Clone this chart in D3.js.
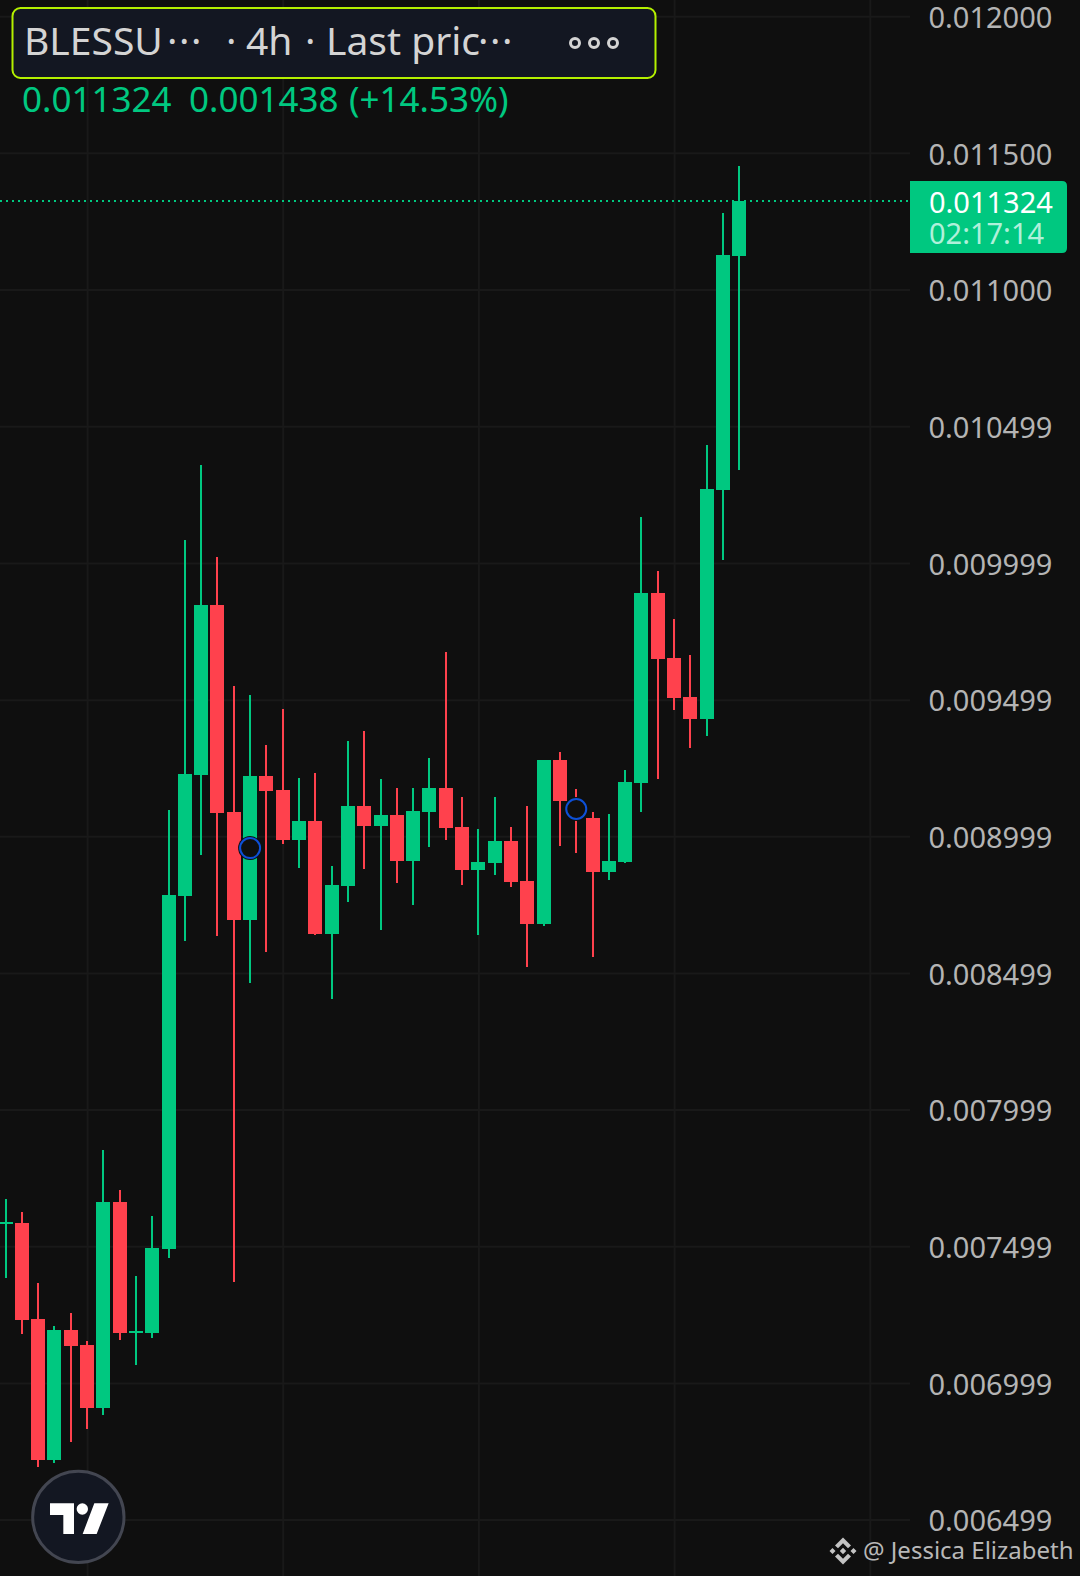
<!doctype html>
<html lang="en">
    <head>
        <meta charset="utf-8">
        <style>
        body, html{
            margin:0;
            padding:0;
            border:none;
            background:#0f0f0f;
            overflow:hidden;
        }
        svg{
            position:absolute;
            top:0;
            left:0;
        }
        text{
            font-family:"Noto Sans", sans-serif;
        }
        </style>
    </head>
    <body>
        <div id="chart"></div>
        <script src="https://d3js.org/d3.v7.min.js"></script>
        <script>

const opens = [
  0.007580, 0.007584, 0.007233, 0.006717, 0.007193, 0.007138, 0.006907, 0.007661, 0.007182, 0.007182,
  0.007489, 0.008781, 0.009223, 0.009845, 0.009088, 0.008693, 0.009220, 0.009168, 0.008985, 0.009055,
  0.008642, 0.008817, 0.009110, 0.009037, 0.009077, 0.008909, 0.009088, 0.009176, 0.009033, 0.008876,
  0.008901, 0.008982, 0.008835, 0.008678, 0.009278, 0.009124, 0.009066, 0.008868, 0.008905, 0.009194,
  0.009889, 0.009651, 0.009509, 0.009428, 0.010266, 0.011122
];
const highs = [
  0.007672, 0.007624, 0.007365, 0.007207, 0.007255, 0.007152, 0.007851, 0.007705, 0.007390, 0.007610,
  0.009095, 0.010083, 0.010358, 0.010021, 0.009549, 0.009516, 0.009333, 0.009465, 0.009212, 0.009231,
  0.008890, 0.009348, 0.009384, 0.009209, 0.009176, 0.009176, 0.009285, 0.009673, 0.009143, 0.009026,
  0.009143, 0.009033, 0.009110, 0.009278, 0.009307, 0.009172, 0.009088, 0.009081, 0.009242, 0.010167,
  0.009970, 0.009794, 0.009662, 0.010431, 0.011280, 0.011452
];
const lows = [
  0.007383, 0.007178, 0.006691, 0.006706, 0.006783, 0.006830, 0.006882, 0.007156, 0.007064, 0.007163,
  0.007456, 0.008616, 0.008931, 0.008634, 0.007368, 0.008462, 0.008576, 0.008971, 0.008883, 0.008638,
  0.008404, 0.008759, 0.008879, 0.008656, 0.008828, 0.008748, 0.008960, 0.008985, 0.008821, 0.008638,
  0.008857, 0.008813, 0.008521, 0.008671, 0.008963, 0.008938, 0.008557, 0.008839, 0.008901, 0.009088,
  0.009209, 0.009461, 0.009322, 0.009366, 0.010010, 0.010339
];
const closes = [
  0.007588, 0.007229, 0.006717, 0.007193, 0.007134, 0.006907, 0.007661, 0.007182, 0.007189, 0.007493,
  0.008784, 0.009227, 0.009845, 0.009084, 0.008693, 0.009220, 0.009165, 0.008985, 0.009055, 0.008642,
  0.008821, 0.009110, 0.009037, 0.009077, 0.008909, 0.009092, 0.009176, 0.009029, 0.008876, 0.008905,
  0.008982, 0.008832, 0.008678, 0.009278, 0.009128, 0.009077, 0.008868, 0.008909, 0.009198, 0.009889,
  0.009648, 0.009505, 0.009428, 0.010270, 0.011126, 0.011324
];

const priceLabels = [
  "0.012000", "0.011500", "0.011000", "0.010499", "0.009999", "0.009499",
  "0.008999", "0.008499", "0.007999", "0.007499", "0.006999", "0.006499"
];
const timeGridBars = [5, 17, 29, 41, 53];
const markerBars = [15, 35];
const markerPrices = [0.008956, 0.009099];
const lastPrice = 0.011324;

const green = "#00c880";
const red = "#ff414d";
const gridColor = "#191919";
const panelColor = "#131722";
const labelColor = "#b4b4b4";

const width = 1080;
const height = 1576;
const plotRight = 910;

const svg = d3.select("#chart").append("svg")
  .attr("width", width)
  .attr("height", height);

svg.append("rect")
  .attr("width", width)
  .attr("height", height)
  .attr("fill", "#0f0f0f");

const x = d3.scaleLinear().domain([0, 45]).range([5.5, 739.3]);
const y = d3.scaleLinear().domain([0.0065, 0.0115]).range([1519.3, 152.8]);

// grid
const xGrid = svg.append("g")
  .attr("transform", `translate(0,${height})`)
  .call(d3.axisBottom(x).tickValues(timeGridBars).tickSize(-height).tickFormat(""));
xGrid.select(".domain").remove();
xGrid.selectAll("line").attr("stroke", gridColor).attr("stroke-width", 2);

const priceValues = priceLabels.map((d) => +d);

const yGrid = svg.append("g")
  .call(d3.axisRight(y).tickValues(priceValues).tickSize(plotRight).tickFormat(""));
yGrid.select(".domain").remove();
yGrid.selectAll("line").attr("stroke", gridColor).attr("stroke-width", 2);

// last price line
svg.append("line")
  .attr("x1", 0)
  .attr("x2", plotRight)
  .attr("y1", y(lastPrice))
  .attr("y2", y(lastPrice))
  .attr("stroke", green)
  .attr("stroke-width", 2)
  .attr("stroke-dasharray", "2 4");

// candles
const candles = d3.range(opens.length);
const colorOf = (i) => closes[i] >= opens[i] ? green : red;

svg.append("g").selectAll("rect").data(candles).enter().append("rect")
  .attr("x", (i) => x(i) - 1)
  .attr("width", 2)
  .attr("y", (i) => y(highs[i]))
  .attr("height", (i) => y(lows[i]) - y(highs[i]))
  .attr("fill", colorOf)
  .attr("shape-rendering", "crispEdges");

svg.append("g").selectAll("rect").data(candles).enter().append("rect")
  .attr("x", (i) => x(i) - 7)
  .attr("width", 14)
  .attr("y", (i) => y(Math.max(opens[i], closes[i])))
  .attr("height", (i) => Math.max(2, Math.abs(y(opens[i]) - y(closes[i]))))
  .attr("fill", colorOf)
  .attr("shape-rendering", "crispEdges");

// circle markers
svg.append("g").selectAll("circle").data(markerBars).enter().append("circle")
  .attr("cx", (d) => x(d))
  .attr("cy", (d, i) => y(markerPrices[i]))
  .attr("r", 12)
  .attr("fill", "#0f0f0f");

svg.append("g").selectAll("circle").data(markerBars).enter().append("circle")
  .attr("cx", (d) => x(d))
  .attr("cy", (d, i) => y(markerPrices[i]))
  .attr("r", 10)
  .attr("fill", "none")
  .attr("stroke", "#0d50d8")
  .attr("stroke-width", 2);

// price axis
const yAxis = svg.append("g")
  .call(d3.axisRight(y).tickValues(priceValues).tickSize(0).tickFormat((d, i) => priceLabels[i]));
yAxis.select(".domain").remove();
yAxis.selectAll("text")
  .attr("x", 928.5)
  .attr("dy", "0.39em")
  .attr("text-anchor", "start")
  .style("font-family", '"Noto Sans", sans-serif')
  .style("font-size", "29px")
  .attr("fill", labelColor);

// last price tag
svg.append("path")
  .attr("d", "M910,181 H1062 Q1067,181 1067,186 V248 Q1067,253 1062,253 H910 Z")
  .attr("fill", green);
svg.append("text")
  .attr("x", 929)
  .attr("y", 212.5)
  .attr("font-size", 29)
  .attr("fill", "#ffffff")
  .text(lastPrice.toFixed(6));
svg.append("text")
  .attr("x", 929)
  .attr("y", 244)
  .attr("font-size", 29)
  .attr("fill", "#b0f0da")
  .text("02:17:14");

// header
svg.append("rect")
  .attr("x", 12.5)
  .attr("y", 8)
  .attr("width", 643)
  .attr("height", 70)
  .attr("rx", 8)
  .attr("fill", panelColor)
  .attr("stroke", "#b4f000")
  .attr("stroke-width", 2);

const headerParts = [
  ["BLESSU", 24], ["···", 167], ["·", 226], ["4h", 246], ["·", 305], ["Last pric", 326], ["···", 478]
];
svg.append("g").selectAll("text").data(headerParts).enter().append("text")
  .attr("x", (d) => d[1])
  .attr("y", 55)
  .attr("font-size", 39)
  .attr("letter-spacing", (d) => d[0] === "···" ? 1.5 : 0)
  .attr("fill", "#d4d4d4")
  .text((d) => d[0]);

svg.append("g").selectAll("circle").data([575, 594, 613]).enter().append("circle")
  .attr("cx", (d) => d)
  .attr("cy", 43)
  .attr("r", 4.5)
  .attr("fill", "none")
  .attr("stroke", "#d4d4d4")
  .attr("stroke-width", 3);

const statusParts = [
  ["0.011324", 22], ["0.001438", 189], ["(+14.53%)", 349]
];
svg.append("g").selectAll("text").data(statusParts).enter().append("text")
  .attr("x", (d) => d[1])
  .attr("y", 112)
  .attr("font-size", 35)
  .attr("fill", green)
  .text((d) => d[0]);

// tradingview badge
const badge = svg.append("g").attr("transform", "translate(0,1130) scale(0.3333)");
badge.append("circle")
  .attr("cx", 235)
  .attr("cy", 1161)
  .attr("r", 137)
  .attr("fill", panelColor)
  .attr("stroke", "#434651")
  .attr("stroke-width", 9);
badge.append("path")
  .attr("d", "M150,1120 H222 V1212 H190 V1155 H150 Z M283,1120 H326 L290,1212 H248 Z")
  .attr("fill", "#ffffff");
badge.append("circle")
  .attr("cx", 247)
  .attr("cy", 1137)
  .attr("r", 17)
  .attr("fill", "#ffffff");

// watermark
const logo = svg.append("g")
  .attr("transform", "translate(843,1551)")
  .attr("fill", "#c4c4c4");
logo.append("path")
  .attr("d", "M0,-13.5 L8,-5.5 L5,-2.8 L0,-7.8 L-5,-2.8 L-8,-5.5 Z M0,13.5 L8,5.5 L5,2.8 L0,7.8 L-5,2.8 L-8,5.5 Z M-13.5,0 L-10.5,-3 L-7.5,0 L-10.5,3 Z M13.5,0 L10.5,-3 L7.5,0 L10.5,3 Z M0,-3.2 L3.2,0 L0,3.2 L-3.2,0 Z");
svg.append("text")
  .attr("x", 863)
  .attr("y", 1559)
  .attr("font-size", 24)
  .attr("fill", "#b8b8b8")
  .text("@ Jessica Elizabeth");

        </script>
    </body>
</html>
